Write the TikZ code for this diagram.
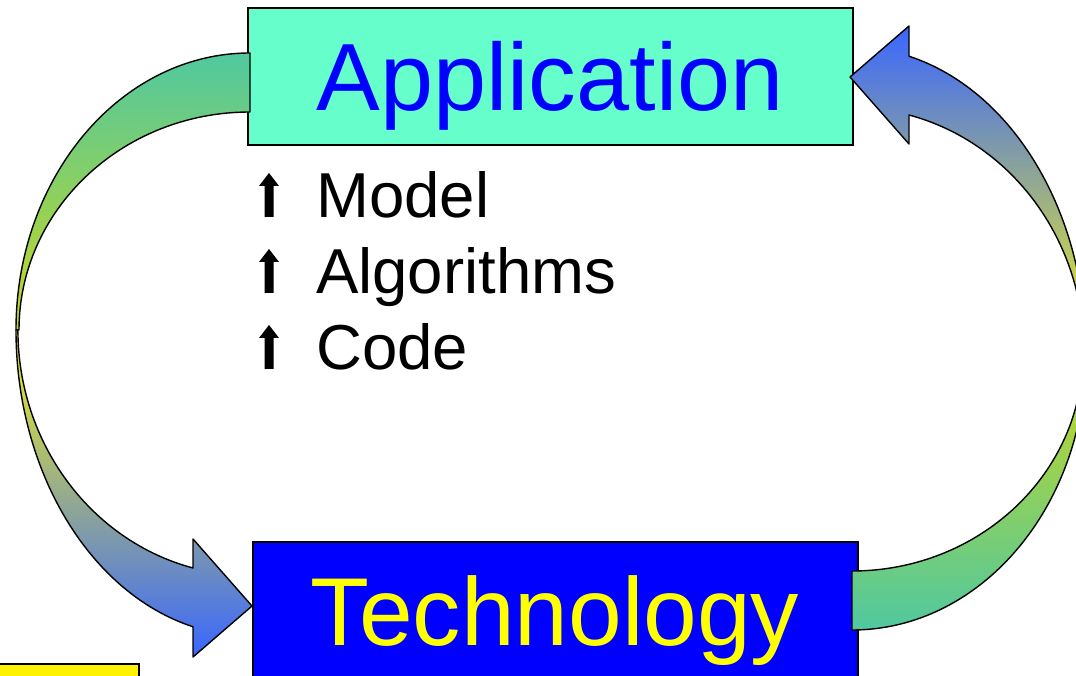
\documentclass[tikz,border=0pt]{standalone}
\usepackage{fontspec}
\setmainfont{Liberation Sans}
\definecolor{appfill}{HTML}{66FFCC}
\definecolor{techfill}{HTML}{0000FF}
\definecolor{apptext}{HTML}{0000FF}
\definecolor{techtext}{HTML}{FFFF00}
\definecolor{gteal}{HTML}{50C8A0}
\definecolor{glime}{HTML}{C8D820}
\definecolor{gyellow}{HTML}{F2F21A}
\definecolor{gblue}{HTML}{3A66FF}
\tikzset{
  boxshape/.style={draw=black, line width=1.6pt, inner sep=0pt},
  arrowshape/.style={draw=black, line width=1.4pt, line join=round},
  bigtext/.style={inner sep=0pt, anchor=base},
  listtext/.style={inner sep=0pt, anchor=base west, font=\fontsize{63.5}{76}\selectfont},
  bulletarrow/.style={fill=black}
}
\newcommand{\uparrowbullet}[2]{%
  \fill[bulletarrow, shift={(#1,#2)}] (-4.5,0) -- (4.5,0) -- (4.5,31) -- (10,31) -- (0,44) -- (-10,31) -- (-4.5,31) -- cycle;}
\begin{document}
\begin{tikzpicture}[x=1pt,y=1pt]
\useasboundingbox (0,0) rectangle (1076,675);
\clip (0,0) rectangle (1076,675);
\fill[white] (0,0) rectangle (1076,675);
% boxes
\node[boxshape, fill=appfill, minimum width=605pt, minimum height=137pt] (app) at (550.5,598.5) {};
\node[boxshape, fill=techfill, minimum width=605pt, minimum height=160pt] (tech) at (555.5,53) {};
\node[boxshape, fill=yellow, minimum width=170pt, minimum height=40pt] (ybox) at (54,-9) {};
% texts
\node[bigtext, text=apptext, font=\fontsize{95.5}{114}\selectfont] (apptxt) at (550,564.3) {Application};
\node[bigtext, text=techtext, font=\fontsize{96.5}{116}\selectfont] (techtxt) at (555,29.3) {Technology};
\uparrowbullet{269}{458}
\node[listtext] (t1) at (316,457) {Model};
\uparrowbullet{269}{382}
\node[listtext] (t2) at (316,381) {Algorithms};
\uparrowbullet{269}{306}
\node[listtext] (t3) at (316,305) {Code};
% left curved arrow
\path[arrowshape, top color=gteal, bottom color=glime]
  (250,622) arc[start angle=90,end angle=180,x radius=234,y radius=277]
  -- (19,345) arc[start angle=180,end angle=90,x radius=231,y radius=218] -- cycle;
\path[arrowshape, top color=gyellow, bottom color=gblue]
  (16,345) arc[start angle=180,end angle=255.9,x radius=234,y radius=306]
  -- (193,18) -- (252,69) -- (193,136) -- (193,107)
  arc[start angle=255.8,end angle=180,x radius=232,y radius=245.6] -- cycle;
% right curved arrow
\path[arrowshape, top color=glime, bottom color=gteal]
  (852,45) arc[start angle=270,end angle=360,x radius=234,y radius=277]
  -- (1083,322) arc[start angle=0,end angle=-90,x radius=231,y radius=218] -- cycle;
\path[arrowshape, top color=gblue, bottom color=gyellow]
  (1086,322) arc[start angle=0,end angle=75.9,x radius=234,y radius=306]
  -- (909,649) -- (850,598) -- (909,531) -- (909,560)
  arc[start angle=75.8,end angle=0,x radius=232,y radius=245.6] -- cycle;
\end{tikzpicture}
\end{document}
